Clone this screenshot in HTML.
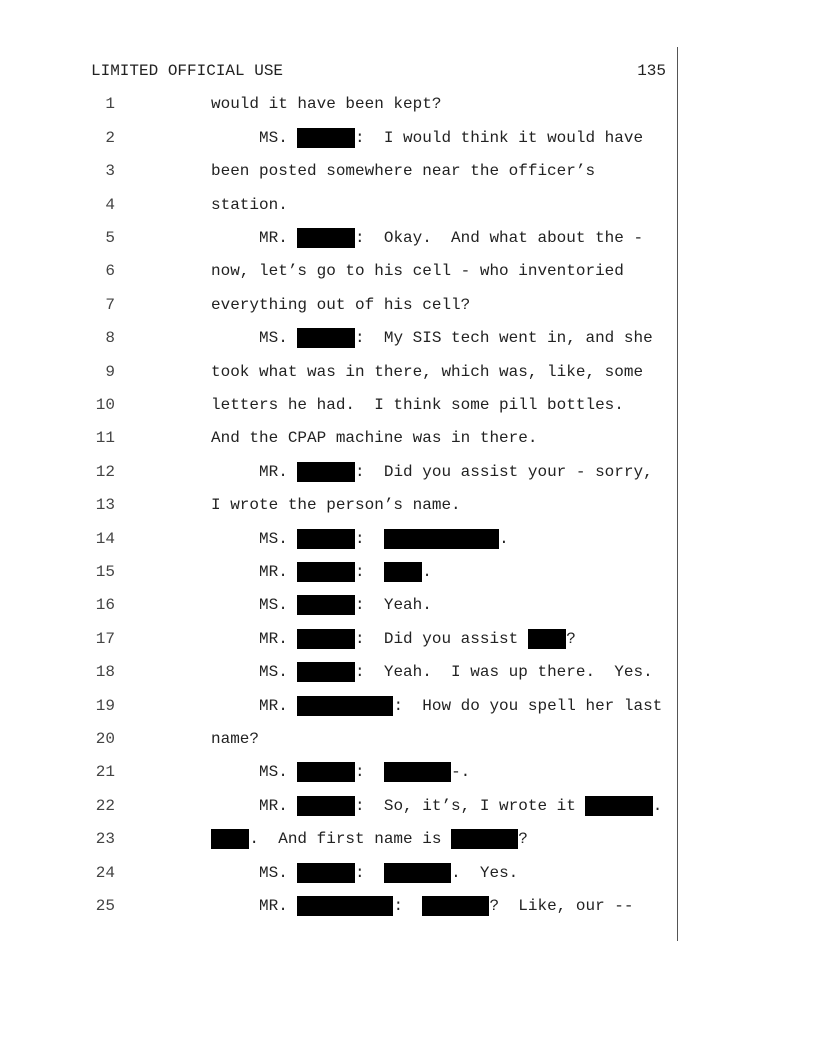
<!DOCTYPE html>
<html><head><meta charset="utf-8"><style>
html,body{margin:0;padding:0;background:#fff;}
body{width:816px;height:1056px;position:relative;overflow:hidden;font-family:"Liberation Mono",monospace;font-size:16px;color:#222;}
.hdr{position:absolute;left:91px;top:61px;white-space:pre;line-height:20px;}
.pg{position:absolute;right:150px;top:61px;line-height:20px;}
.vl{position:absolute;left:677px;top:47px;width:1px;height:894px;background:#555;}
.lines{position:absolute;left:0;top:88.3px;}
.l{height:33.42px;line-height:33.42px;position:relative;white-space:pre;}
.n{position:absolute;left:75px;width:40px;text-align:right;color:#444;}
.t{position:absolute;left:211px;}
.r{background:#000;padding:1px 0;}
</style></head><body>
<div class="hdr">LIMITED OFFICIAL USE</div>
<div class="pg">135</div>
<div class="vl"></div>
<div class="lines">
<div class="l"><span class="n">1</span><span class="t">would it have been kept?</span></div>
<div class="l"><span class="n">2</span><span class="t">     MS. <span class="r">      </span>:  I would think it would have</span></div>
<div class="l"><span class="n">3</span><span class="t">been posted somewhere near the officer’s</span></div>
<div class="l"><span class="n">4</span><span class="t">station.</span></div>
<div class="l"><span class="n">5</span><span class="t">     MR. <span class="r">      </span>:  Okay.  And what about the -</span></div>
<div class="l"><span class="n">6</span><span class="t">now, let’s go to his cell - who inventoried</span></div>
<div class="l"><span class="n">7</span><span class="t">everything out of his cell?</span></div>
<div class="l"><span class="n">8</span><span class="t">     MS. <span class="r">      </span>:  My SIS tech went in, and she</span></div>
<div class="l"><span class="n">9</span><span class="t">took what was in there, which was, like, some</span></div>
<div class="l"><span class="n">10</span><span class="t">letters he had.  I think some pill bottles.</span></div>
<div class="l"><span class="n">11</span><span class="t">And the CPAP machine was in there.</span></div>
<div class="l"><span class="n">12</span><span class="t">     MR. <span class="r">      </span>:  Did you assist your - sorry,</span></div>
<div class="l"><span class="n">13</span><span class="t">I wrote the person’s name.</span></div>
<div class="l"><span class="n">14</span><span class="t">     MS. <span class="r">      </span>:  <span class="r">            </span>.</span></div>
<div class="l"><span class="n">15</span><span class="t">     MR. <span class="r">      </span>:  <span class="r">    </span>.</span></div>
<div class="l"><span class="n">16</span><span class="t">     MS. <span class="r">      </span>:  Yeah.</span></div>
<div class="l"><span class="n">17</span><span class="t">     MR. <span class="r">      </span>:  Did you assist <span class="r">    </span>?</span></div>
<div class="l"><span class="n">18</span><span class="t">     MS. <span class="r">      </span>:  Yeah.  I was up there.  Yes.</span></div>
<div class="l"><span class="n">19</span><span class="t">     MR. <span class="r">          </span>:  How do you spell her last</span></div>
<div class="l"><span class="n">20</span><span class="t">name?</span></div>
<div class="l"><span class="n">21</span><span class="t">     MS. <span class="r">      </span>:  <span class="r">       </span>-.</span></div>
<div class="l"><span class="n">22</span><span class="t">     MR. <span class="r">      </span>:  So, it’s, I wrote it <span class="r">       </span>.</span></div>
<div class="l"><span class="n">23</span><span class="t"><span class="r">    </span>.  And first name is <span class="r">       </span>?</span></div>
<div class="l"><span class="n">24</span><span class="t">     MS. <span class="r">      </span>:  <span class="r">       </span>.  Yes.</span></div>
<div class="l"><span class="n">25</span><span class="t">     MR. <span class="r">          </span>:  <span class="r">       </span>?  Like, our --</span></div>
</div>
</body></html>
